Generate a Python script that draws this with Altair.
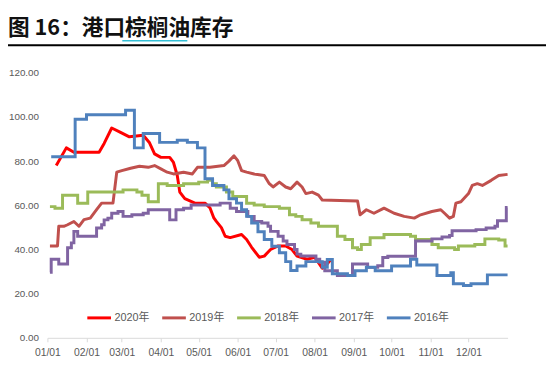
import altair as alt
import pandas as pd

TITLE = "图 16：港口棕榈油库存"
SERIES = ["2020年", "2019年", "2018年", "2017年", "2016年"]
COLORS = ["#FF0000", "#C0504D", "#9BBB59", "#8064A2", "#4F81BD"]
Y_TICKS = [0, 20, 40, 60, 80, 100, 120]
MONTHS = list(range(1, 13))

# day of year -> value
days_2020 = [7, 15, 21, 41, 45, 51, 58, 65, 76, 81, 85, 90, 97, 100, 103, 105, 109, 117, 125, 129,
             132, 134, 138, 141, 145, 154, 158, 162, 168, 172, 177, 183, 189, 194, 198, 206, 212, 218, 222, 225]
vals_2020 = [78, 86, 84, 84, 88, 95, 93, 91, 91.7, 88.3, 83.3, 81.7, 81.7, 79.4, 73.5, 66, 63, 61, 61, 58.8,
             54.3, 52.7, 49.9, 46, 45.4, 46.8, 44.5, 41, 36.5, 37, 40, 41.6, 41.6, 40, 37, 35.6, 36.5, 31.5, 33.5, 35.6]

days_2019 = [2, 8, 9, 13, 16, 21, 25, 29, 34, 39, 43, 52, 55, 59, 66, 73, 80, 85, 90, 95,
             100, 108, 115, 119, 129, 140, 144, 148, 151, 154, 158, 164, 172, 176, 179, 184, 189, 193, 198, 202,
             205, 210, 215, 218, 246, 248, 253, 259, 267, 275, 283, 291, 296, 305, 312, 315, 319, 322, 324, 328,
             334, 337, 341, 345, 352, 358, 365]
vals_2019 = [41.6, 41.6, 50.5, 50.5, 51.2, 52.7, 50.5, 53.5, 54.2, 58, 61, 61, 75, 75.7, 76.8, 77.7, 77.2, 78, 76.5, 75,
             74.2, 75, 74.2, 77.2, 77.2, 78, 80, 82.4, 80.2, 75.7, 75, 74.2, 73.5, 69.8, 68.3, 70.5, 68.3, 67.5, 70.5, 68.3,
             65.3, 66, 64.6, 62.4, 62, 55.7, 58, 56.4, 58.7, 56.4, 55, 54.2, 55.7, 57.2, 58, 56.4, 54.2, 55, 61, 61.6,
             65.3, 69, 69.8, 69, 71.3, 73.5, 74]

days_2018 = [2, 6, 12, 24, 32, 60, 71, 75, 80, 88, 95, 108, 120, 127, 131, 134, 142, 147, 158, 164,
             172, 184, 192, 197, 202, 209, 215, 230, 236, 242, 246, 249, 256, 267, 288, 292, 305, 310, 323, 326,
             339, 347, 358, 363, 365]
vals_2018 = [59.4, 58.7, 64.6, 60.9, 66, 67, 66, 64.6, 61.6, 69.8, 69, 69.8, 70.5, 71.3, 69.8, 68.3, 66, 64, 60.9, 60.1,
             59.4, 58.7, 55.7, 55, 53.5, 52, 50.5, 46, 44.5, 40.8, 40, 42.3, 45.3, 46.8, 46, 44.5, 42.3, 40.8, 40, 41.6,
             42.3, 44.8, 44.3, 41.6, 41.6]

days_2017 = [2, 3, 9, 16, 19, 21, 24, 39, 43, 45, 48, 51, 56, 60, 67, 76, 80, 97, 102, 108,
             114, 137, 145, 150, 159, 164, 170, 175, 177, 183, 187, 190, 196, 198, 201, 213, 216, 220, 230, 242,
             254, 262, 266, 270, 292, 305, 313, 319, 321, 340, 348, 355, 357, 364, 365]
vals_2017 = [29.7, 35.6, 33.4, 40.8, 43, 48.2, 46, 49.7, 51.2, 53.4, 54.2, 56.4, 57.2, 55, 55.7, 56.4, 58, 53.4, 58, 58.7,
             60.1, 61, 58.7, 57.2, 55, 52.7, 52, 50.5, 48.2, 46, 43.8, 42.3, 40, 37.9, 37.1, 35.6, 34.2, 30.4, 28.2, 33.4,
             31.9, 32.6, 36.4, 36.9, 43.8, 44.8, 45.7, 46.3, 48.5, 49, 49.7, 50.5, 53, 59, 59]

days_2016 = [3, 22, 31, 62, 69, 76, 89, 103, 111, 119, 125, 131, 140, 144, 150, 154, 158, 162, 167, 172,
             178, 184, 189, 193, 198, 205, 218, 222, 226, 238, 244, 253, 260, 273, 288, 293, 309, 320, 322, 330,
             336, 349, 365]
vals_2016 = [82, 99, 101, 103, 86, 92.5, 88.5, 89.5, 88.5, 86, 72, 69, 67, 63, 61, 58, 55, 52, 48, 44.5,
             41.5, 38.5, 34.5, 30.5, 32.5, 34.5, 32, 35.5, 29, 28.2, 30.4, 32, 30.4, 32.5, 35.6, 33, 28.2, 29.5, 24.5, 23.7,
             24.5, 28.5, 28.5]

BASE = pd.Timestamp("2019-01-01")


def frame(name, days, vals):
    return pd.DataFrame({
        "date": BASE + pd.to_timedelta(days, unit="D"),
        "value": vals,
        "series": name,
    })


linear_df = pd.concat([frame("2020年", days_2020, vals_2020),
                       frame("2019年", days_2019, vals_2019)], ignore_index=True)
step_df = pd.concat([frame("2018年", days_2018, vals_2018),
                     frame("2017年", days_2017, vals_2017),
                     frame("2016年", days_2016, vals_2016)], ignore_index=True)

LABEL_FONT = "Liberation Sans, Noto Sans CJK SC"

x_enc = alt.X(
    "date:T",
    scale=alt.Scale(domain=[alt.DateTime(year=2019, month=1, date=1),
                            alt.DateTime(year=2020, month=1, date=1)]),
    axis=alt.Axis(
        title=None,
        values=[alt.DateTime(year=2019, month=m, date=1) for m in MONTHS],
        format="%m/%d",
        labelFont=LABEL_FONT, labelFontSize=10.5, labelColor="#595959",
        domainColor="#D9D9D9", domainWidth=1,
        tickColor="#D9D9D9", tickSize=4, labelPadding=6,
        grid=False, labelFlush=False,
    ),
)
y_enc = alt.Y(
    "value:Q",
    scale=alt.Scale(domain=[0, 120], nice=False),
    axis=alt.Axis(
        title=None, values=Y_TICKS, format=".2f",
        labelFont=LABEL_FONT, labelFontSize=10, labelColor="#595959",
        domain=False, ticks=False, grid=False, labelPadding=9,
    ),
)
color_enc = alt.Color(
    "series:N",
    scale=alt.Scale(domain=SERIES, range=COLORS),
    legend=alt.Legend(
        title=None, orient="none", legendX=39, legendY=235,
        direction="horizontal", columns=5,
        symbolType="stroke", symbolSize=576, symbolStrokeWidth=3,
        labelFont=LABEL_FONT, labelFontSize=11, labelColor="#595959",
        labelOffset=2, columnPadding=6, padding=0,
    ),
)

lin = alt.Chart(linear_df).mark_line(strokeWidth=3, strokeJoin="round").encode(
    x=x_enc, y=y_enc, color=color_enc)
step = alt.Chart(step_df).mark_line(strokeWidth=3, interpolate="step-after").encode(
    x=x_enc, y=y_enc, color=color_enc)

title_df = pd.DataFrame({"t": [TITLE]})
title = alt.Chart(title_df).mark_text(
    align="left", baseline="alphabetic", font="Noto Sans CJK SC",
    fontSize=22, fontWeight="bold", color="#111111",
).encode(x=alt.value(-40), y=alt.value(-38), text="t:N")

deco_df = pd.DataFrame({"k": [0]})
black_rule = alt.Chart(deco_df).mark_rule(color="#000000", strokeWidth=2).encode(
    x=alt.value(-40), x2=alt.value(506), y=alt.value(-28))
cyan_rule = alt.Chart(deco_df).mark_rule(color="#33BFD6", strokeWidth=1.5).encode(
    x=alt.value(76), x2=alt.value(142), y=alt.value(-32.5))

chart = alt.layer(lin, step, title, black_rule, cyan_rule).properties(
    width=467, height=269,
    autosize=alt.AutoSizeParams(type="none"),
    padding={"left": 40, "top": 63, "right": 39, "bottom": 38},
    background="white",
).configure_view(stroke=None)

chart.save("out.html", embed_options={"renderer": "svg", "actions": False})
